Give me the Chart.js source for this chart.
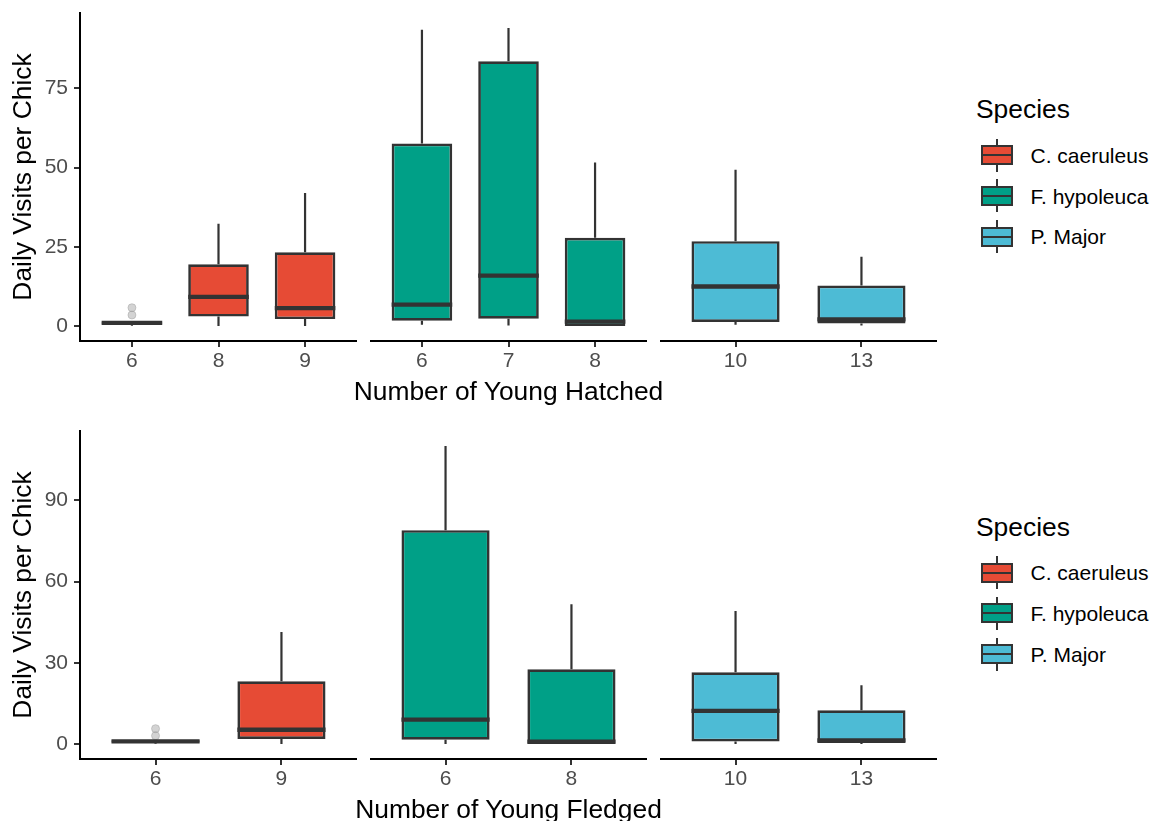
<!DOCTYPE html>
<html>
<head>
<meta charset="utf-8">
<title>Daily Visits per Chick</title>
<script src="https://cdn.jsdelivr.net/npm/chart.js@4.4.1/dist/chart.umd.min.js"></script>
<style>
  html, body { margin: 0; padding: 0; background: #ffffff; overflow: hidden; }
  #page { position: relative; width: 1158px; height: 821px; overflow: hidden;
          font-family: 'Liberation Sans', Arial, sans-serif; }
  #page canvas { position: absolute; }
  .axis-title { position: absolute; width: 600px; text-align: center; font-size: 26.4px; line-height: 26.4px; color: #000; white-space: nowrap; }
  .legend-title { position: absolute; font-size: 26.4px; line-height: 26.4px; color: #000; white-space: nowrap; }
  .legend-label { position: absolute; font-size: 21px; line-height: 21px; color: #000; white-space: nowrap; }
  .key { position: absolute; width: 32px; height: 33px; }
  .key .whisker { position: absolute; left: 15px; top: 0; width: 2px; height: 33px; background: #333333; }
  .key .box { position: absolute; left: 0; top: 6.5px; width: 32px; height: 20px; box-sizing: border-box; border: 2px solid #333333; }
  .key .mid { position: absolute; left: 0; top: 15.5px; width: 32px; height: 2px; background: #333333; }
</style>
</head>
<body>
<div id="page"></div>
<script>
// Species and their fill colours
const species = ['C. caeruleus', 'F. hypoleuca', 'P. Major'];
const speciesColors = ['#E64B35', '#00A087', '#4DBBD5'];

// ---- Number of Young Hatched (one inner list per species) ----
const hatchedLabels  = [['6', '8', '9'], ['6', '7', '8'], ['10', '13']];
const hatchedLower   = [[0.1, 0, 0], [0.4, 0.2, 0], [0.4, 0.2]];
const hatchedQ1      = [[0.6, 3.0, 2.2], [1.7, 2.3, 0], [1.3, 0.8]];
const hatchedMedian  = [[1.0, 9.2, 5.7], [6.8, 15.9, 1.4], [12.5, 2.1]];
const hatchedQ3      = [[1.4, 19.5, 23.3], [57.6, 83.6, 27.9], [26.8, 12.8]];
const hatchedUpper   = [[1.4, 32.3, 42.0], [93.5, 94.1, 51.6], [49.3, 21.9]];
const hatchedOutliers = [[{ cat: '6', value: 3.5 }, { cat: '6', value: 5.8 }], [], []];
const hatchedYTicks  = [0, 25, 50, 75];

// ---- Number of Young Fledged ----
const fledgedLabels  = [['6', '9'], ['6', '8'], ['10', '13']];
const fledgedLower   = [[0.1, 0], [0, 0], [0, 0]];
const fledgedQ1      = [[0.6, 1.9], [1.6, 0], [1.0, 0.4]];
const fledgedMedian  = [[1.0, 5.3], [9.0, 0.9], [12.3, 1.4]];
const fledgedQ3      = [[1.4, 23.2], [79.0, 27.6], [26.5, 12.5]];
const fledgedUpper   = [[1.4, 41.4], [110.1, 51.6], [49.1, 21.7]];
const fledgedOutliers = [[{ cat: '6', value: 3.1 }, { cat: '6', value: 5.7 }], [], []];
const fledgedYTicks  = [0, 30, 60, 90];

// ---- layout ----
const FONT = "'Liberation Sans', Arial, sans-serif";
const AXIS_W = 80;          // width of the left axis block
const FACET_LEFT = [80, 370, 660];
const FACET_W = 277;
const PANEL_PAD_TOP = 13;
const X_AXIS_H = 69;
const CANVAS_H = 410;
const INK = '#333333';

// Whiskers under the boxes and median bars on top of them, placed with the chart's scales
function boxPlotLayer(stats) {
  return {
    id: 'boxPlotLayer',
    beforeDatasetsDraw(chart) {
      const xs = chart.scales.x, ys = chart.scales.y, ctx = chart.ctx;
      ctx.save();
      ctx.strokeStyle = INK;
      ctx.lineWidth = 2.2;
      ctx.beginPath();
      stats.q1.forEach((q1, i) => {
        const px = xs.getPixelForValue(i + 1);
        ctx.moveTo(px, ys.getPixelForValue(stats.upper[i]));
        ctx.lineTo(px, ys.getPixelForValue(stats.q3[i]));
        ctx.moveTo(px, ys.getPixelForValue(q1));
        ctx.lineTo(px, ys.getPixelForValue(stats.lower[i]));
      });
      ctx.stroke();
      ctx.restore();
    },
    afterDatasetsDraw(chart) {
      const ys = chart.scales.y, ctx = chart.ctx;
      const bars = chart.getDatasetMeta(0).data;
      ctx.save();
      ctx.strokeStyle = INK;
      ctx.lineWidth = 4.3;
      ctx.beginPath();
      bars.forEach((bar, i) => {
        const py = ys.getPixelForValue(stats.median[i]);
        ctx.moveTo(bar.x - bar.width / 2, py);
        ctx.lineTo(bar.x + bar.width / 2, py);
      });
      ctx.stroke();
      ctx.restore();
    }
  };
}

function yRange(lower, upper, outliers) {
  const vals = [].concat(...lower, ...upper, ...outliers.map(o => o.map(p => p.value)));
  const lo = Math.min(...vals), hi = Math.max(...vals);
  const pad = (hi - lo) * 0.05;
  return { min: lo - pad, max: hi + pad };
}

function zeroPadding(s) {
  s.paddingLeft = 0; s.paddingRight = 0; s.paddingTop = 0; s.paddingBottom = 0;
}

function makePanel(top, d, xTitle) {
  const page = document.getElementById('page');
  const range = yRange(d.lower, d.upper, d.outliers);

  species.forEach((sp, f) => {
    const labels = d.labels[f];
    const first = f === 0;
    const canvas = document.createElement('canvas');
    const left = first ? FACET_LEFT[0] - AXIS_W : FACET_LEFT[f];
    const width = first ? AXIS_W + FACET_W : FACET_W;
    canvas.width = width;
    canvas.height = CANVAS_H;
    canvas.style.left = left + 'px';
    canvas.style.top = top + 'px';
    page.appendChild(canvas);

    const stats = { lower: d.lower[f], q1: d.q1[f], median: d.median[f], q3: d.q3[f], upper: d.upper[f] };

    new Chart(canvas, {
      type: 'bar',
      data: {
        datasets: [
          {
            type: 'bar',
            label: sp,
            data: labels.map((_, i) => ({ x: i + 1, y: [stats.q1[i], stats.q3[i]] })),
            backgroundColor: speciesColors[f],
            borderColor: INK,
            borderWidth: 2.7,
            borderSkipped: false,
            barPercentage: 0.7,
            categoryPercentage: 1,
            order: 2
          },
          {
            type: 'scatter',
            label: sp + ' outliers',
            data: d.outliers[f].map(o => ({ x: labels.indexOf(o.cat) + 1, y: o.value })),
            pointRadius: 4,
            pointHoverRadius: 4,
            backgroundColor: 'rgba(150,150,150,0.42)',
            borderColor: 'rgba(150,150,150,0.42)',
            borderWidth: 1,
            order: 1
          }
        ]
      },
      plugins: [boxPlotLayer(stats)],
      options: {
        responsive: false,
        animation: false,
        events: [],
        layout: { autoPadding: false, padding: { top: PANEL_PAD_TOP, left: 0, right: 0, bottom: 0 } },
        plugins: { legend: { display: false }, tooltip: { enabled: false } },
        scales: {
          x: {
            type: 'linear',
            min: 0.4,
            max: labels.length + 0.6,
            offset: false,
            afterBuildTicks: s => { s.ticks = labels.map((_, i) => ({ value: i + 1 })); },
            afterFit: s => { s.height = X_AXIS_H; zeroPadding(s); },
            ticks: {
              callback: v => labels[Math.round(v) - 1],
              color: '#4D4D4D',
              font: { family: FONT, size: 21 },
              padding: 2,
              autoSkip: false,
              maxRotation: 0
            },
            grid: { display: true, drawOnChartArea: false, drawTicks: true, tickLength: 6, color: INK, lineWidth: 2, offset: false },
            border: { display: true, color: '#000000', width: 2 }
          },
          y: {
            type: 'linear',
            display: first,
            min: range.min,
            max: range.max,
            afterBuildTicks: s => { s.ticks = d.yTicks.map(v => ({ value: v })); },
            afterFit: s => { s.width = first ? AXIS_W : 0; zeroPadding(s); },
            ticks: { color: '#4D4D4D', font: { family: FONT, size: 21 }, padding: 6 },
            grid: { display: true, drawOnChartArea: false, drawTicks: true, tickLength: 6, color: INK, lineWidth: 2 },
            border: { display: true, color: '#000000', width: 2 },
            title: {
              display: true,
              text: 'Daily Visits per Chick',
              color: '#000000',
              font: { family: FONT, size: 26.4, lineHeight: 1 },
              padding: { top: 11, bottom: 0 }
            }
          }
        }
      }
    });
  });

  // x-axis title shared by the three facets, centred under them
  const title = document.createElement('div');
  title.className = 'axis-title';
  title.textContent = xTitle;
  const centre = (FACET_LEFT[0] + FACET_LEFT[2] + FACET_W) / 2;
  title.style.left = (centre - 300) + 'px';
  title.style.top = (top + 378) + 'px';
  page.appendChild(title);
}

function makeLegend(offset) {
  const page = document.getElementById('page');
  const title = document.createElement('div');
  title.className = 'legend-title';
  title.textContent = 'Species';
  title.style.left = '976px';
  title.style.top = (offset + 96) + 'px';
  page.appendChild(title);

  species.forEach((name, i) => {
    const cy = offset + 155 + i * 40.85;
    const key = document.createElement('div');
    key.className = 'key';
    key.style.left = '981px';
    key.style.top = (cy - 16.5) + 'px';
    key.innerHTML = '<div class="whisker"></div><div class="box"></div><div class="mid"></div>';
    key.querySelector('.box').style.background = speciesColors[i];
    page.appendChild(key);

    const label = document.createElement('div');
    label.className = 'legend-label';
    label.textContent = name;
    label.style.left = '1030.5px';
    label.style.top = (cy - 10.3) + 'px';
    page.appendChild(label);
  });
}

makePanel(0, {
  labels: hatchedLabels, lower: hatchedLower, q1: hatchedQ1, median: hatchedMedian,
  q3: hatchedQ3, upper: hatchedUpper, outliers: hatchedOutliers, yTicks: hatchedYTicks
}, 'Number of Young Hatched');

makePanel(418, {
  labels: fledgedLabels, lower: fledgedLower, q1: fledgedQ1, median: fledgedMedian,
  q3: fledgedQ3, upper: fledgedUpper, outliers: fledgedOutliers, yTicks: fledgedYTicks
}, 'Number of Young Fledged');

makeLegend(0);
makeLegend(417.5);
</script>
</body>
</html>
